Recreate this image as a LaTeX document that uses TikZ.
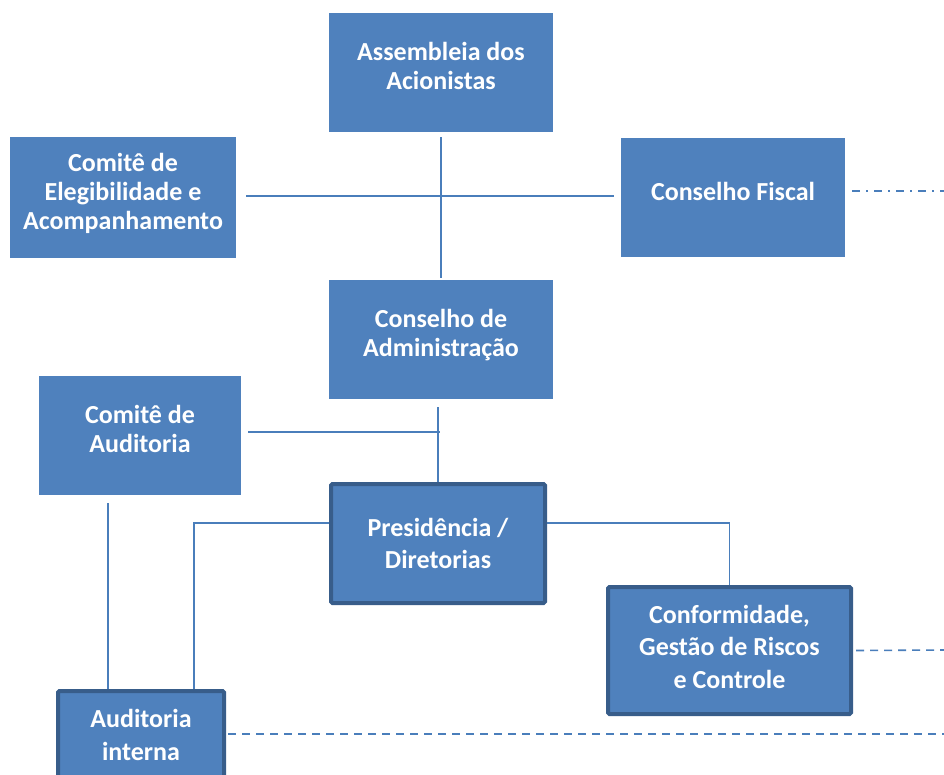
\documentclass[tikz,border=0pt]{standalone}
\usepackage{fontspec}
\setmainfont{Carlito}
\definecolor{boxfill}{HTML}{4F81BD}
\definecolor{boxdark}{HTML}{385D8A}
\definecolor{linec}{HTML}{4A7EBB}
\newcommand{\uplines}[2][3pt]{\raisebox{#1}[\height][\depth]{\begin{tabular}{@{}c@{}}#2\end{tabular}}}
\tikzset{
  box/.style={rectangle, fill=boxfill, draw=none, text=white, align=center,
    font=\fontsize{26}{29}\selectfont\bfseries, inner sep=0pt},
  boldbox/.style={box, draw=boxdark, line width=4pt, rounded corners=1.5pt,
    font=\fontsize{26}{32.5}\selectfont\bfseries},
  conn/.style={draw=linec, line width=1.6pt},
  dashconn/.style={conn, dash pattern=on 8pt off 6pt},
  dashdotconn/.style={conn, dash pattern=on 8pt off 6pt on 2pt off 6pt}
}
\begin{document}
\begin{tikzpicture}[x=1pt,y=-1pt]
\clip (0,0) rectangle (944,774);
\fill[white] (0,0) rectangle (944,774);

\node[box, minimum width=224pt, minimum height=119pt] (asm) at (441,72.5) {\uplines{Assembleia dos\\Acionistas}};
\node[box, minimum width=226pt, minimum height=121pt] (elig) at (123,197.5) {\uplines{Comitê de\\Elegibilidade e\\Acompanhamento}};
\node[box, minimum width=224pt, minimum height=119pt] (fiscal) at (733,197.5) {\uplines{Conselho Fiscal}};
\node[box, minimum width=224pt, minimum height=119pt] (ca) at (441,339.5) {\uplines{Conselho de\\Administração}};
\node[box, minimum width=202pt, minimum height=119pt] (cau) at (140,435.5) {\uplines{Comitê de\\Auditoria}};
\node[boldbox, minimum width=214pt, minimum height=119pt] (pres) at (438,543.5) {Presidência /\\Diretorias};
\node[boldbox, minimum width=243pt, minimum height=127pt] (conf) at (729.5,650.5) {\uplines[1.5pt]{Conformidade,\\Gestão de Riscos\\e Controle}};
\node[boldbox, minimum width=166pt, minimum height=88pt] (ai) at (141,735) {Auditoria\\interna};

\coordinate (edgeFiscal) at (944,191);
\coordinate (edgeConf) at (944,650);
\coordinate (edgeAI) at (944,734);

% connectors
\draw[conn] ([yshift=-5pt]asm.south) -- ([yshift=2pt]ca.north);
\draw[conn] ([xshift=10pt,yshift=1.5pt]elig.east) -- ([xshift=-7pt,yshift=1.5pt]fiscal.west);
\draw[dashdotconn] ([xshift=7pt,yshift=6.5pt]fiscal.east) -- (edgeFiscal);
\draw[conn] ([xshift=-3pt,yshift=-8pt]ca.south) -- (pres.north);
\draw[conn] ([xshift=7pt,yshift=3.5pt]cau.east) -- ([xshift=2pt,yshift=3.5pt]cau.east -| pres.north);
\draw[conn] ([yshift=20.5pt]pres.west) -| ([xshift=53pt]ai.north);
\draw[conn] ([xshift=-32pt,yshift=-8pt]cau.south) -- ([xshift=-33pt]ai.north);
\draw[conn] ([yshift=20.5pt]pres.east) -| (conf.north);
\draw[dashconn] ([xshift=3pt]conf.east) -- (edgeConf);
\draw[dashconn] ([xshift=2pt,yshift=1pt]ai.east) -- (edgeAI);
\end{tikzpicture}
\end{document}
